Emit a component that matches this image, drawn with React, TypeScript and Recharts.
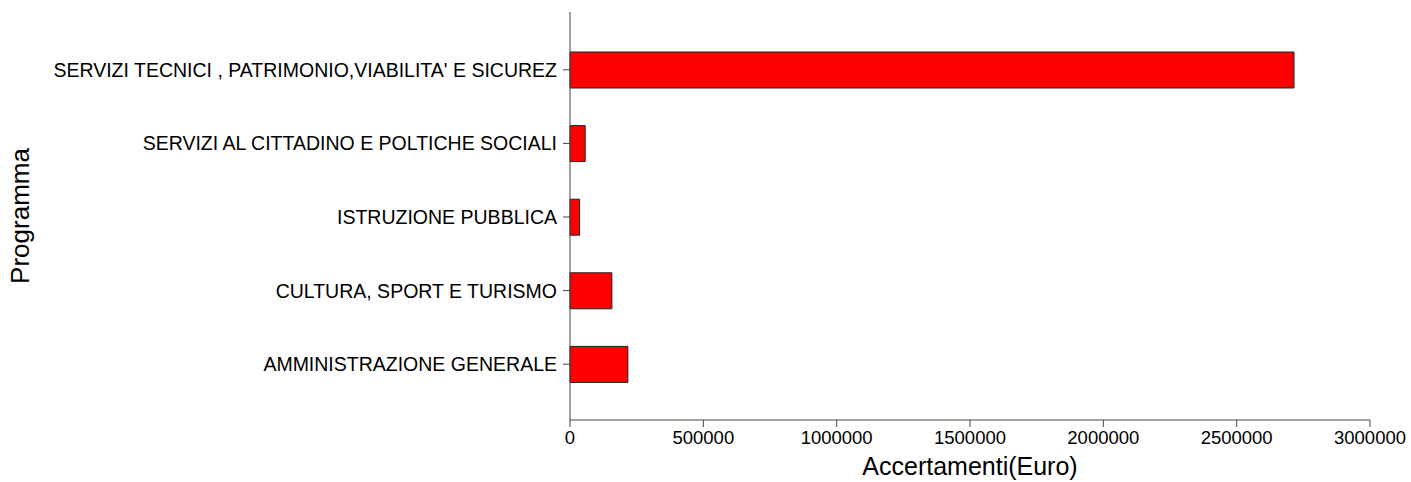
import React from 'react';
import { BarChart, Bar, XAxis, YAxis, Label } from 'recharts';

const programmi = [
  "SERVIZI TECNICI , PATRIMONIO,VIABILITA' E SICUREZ",
  'SERVIZI AL CITTADINO E POLTICHE SOCIALI',
  'ISTRUZIONE PUBBLICA',
  'CULTURA, SPORT E TURISMO',
  'AMMINISTRAZIONE GENERALE',
];

const accertamenti = [2715000, 57000, 36000, 157000, 217000];

const xTicks = [0, 500000, 1000000, 1500000, 2000000, 2500000, 3000000];

const data = programmi.map((nome, i) => ({ nome, valore: accertamenti[i] }));

const font = '"Liberation Sans", Arial, sans-serif';

const App = () => {
  return (
    <div style={{ position: 'absolute', left: 0, top: 0, width: 1411, height: 482, background: '#fff' }}>
      <BarChart
        width={1411}
        height={482}
        data={data}
        layout="vertical"
        margin={{ top: 12, right: 41, bottom: 0, left: 0 }}
      >
        <XAxis
          type="number"
          domain={[0, 3000000]}
          ticks={xTicks}
          height={62}
          stroke="#444"
          tickSize={7}
          tick={{ fill: '#000', fontSize: 18.5, fontFamily: font }}
          tickMargin={4}
          interval={0}
        >
          <Label
            value="Accertamenti(Euro)"
            position="insideBottom"
            offset={7}
            style={{ fill: '#000', fontSize: 25, fontFamily: font }}
          />
        </XAxis>
        <YAxis
          type="category"
          dataKey="nome"
          width={570}
          stroke="#444"
          tickSize={7}
          tickMargin={6}
          padding={{ top: 21, bottom: 19 }}
          tick={{ fill: '#000', fontSize: 19.5, fontFamily: font }}
          interval={0}
        >
          <Label
            value="Programma"
            angle={-90}
            position="insideLeft"
            offset={20}
            style={{ fill: '#000', fontSize: 26, fontFamily: font, textAnchor: 'middle' }}
          />
        </YAxis>
        <Bar dataKey="valore" fill="#ff0000" stroke="#222" strokeWidth={1} barSize={36} isAnimationActive={false} />
      </BarChart>
    </div>
  );
};

export default App;
